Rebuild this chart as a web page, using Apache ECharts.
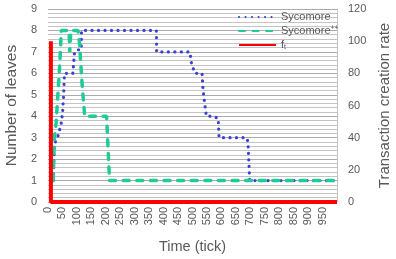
<!DOCTYPE html>
<html>
<head>
<meta charset="utf-8">
<script src="https://cdn.jsdelivr.net/npm/echarts@6/dist/echarts.min.js"></script>
<style>
  html, body { margin: 0; padding: 0; background: #fff; }
  #chart { width: 396px; height: 259px; }
</style>
</head>
<body>
<div id="chart"></div>
<script>
// Sycomore (blue dotted)
var sycTime = [18, 22, 35, 45, 50, 54, 57, 86, 92, 103, 115, 116, 375, 376, 491, 496, 508, 533, 536, 542, 548, 571, 589, 592, 687, 692, 698, 1000];
var sycLeaves = [1, 2.7, 3.1, 3.6, 4.1, 5, 6, 6, 7, 7.1, 7.1, 8, 8, 7, 7, 6.5, 6, 6, 5.3, 4.6, 4, 4, 3.9, 3, 3, 2.8, 1, 1];

// Sycomore++ (green dashed)
var sppTime = [18, 22, 28, 34, 38, 42, 46, 73, 75, 77, 79, 104, 109, 118, 127, 203, 206, 213, 1000];
var sppLeaves = [1, 3, 3.7, 5, 5.8, 6.8, 8, 8, 7, 7, 8, 8, 7.4, 5.5, 4, 4, 3, 1, 1];

// f_t, transaction creation rate (right axis)
var ftTime = [10, 10, 1000];
var ftRate = [100, 0, 0];

var leafTicks = [0, 9, 1];
var rateTicks = [0, 120, 20];
var timeTicks = [0, 1000, 50];

function pairs(xs, ys) {
    return xs.map(function (x, i) { return [x, ys[i]]; });
}

var grey = '#595959';
var font = 'Liberation Sans, Arial, sans-serif';

var option = {
    animation: false,
    textStyle: {fontFamily: font},
    grid: {left: 48, right: 59, top: 9, bottom: 57, containLabel: false, outerBoundsMode: 'none'},
    legend: {
        orient: 'vertical',
        left: 233,
        top: 6,
        itemWidth: 37,
        itemHeight: 8,
        itemGap: 2,
        itemStyle: {opacity: 0},
        data: ['Sycomore', 'Sycomore++', 'ft'],
        formatter: function (name) {
            if (name === 'Sycomore++') return 'Sycomore{sup|++}';
            if (name === 'ft') return 'f{sub|t}';
            return name;
        },
        textStyle: {
            color: grey, fontSize: 11, fontFamily: font, lineHeight: 12,
            rich: {
                sup: {fontSize: 7, color: grey, verticalAlign: 'top', lineHeight: 12},
                sub: {fontSize: 7, color: grey, verticalAlign: 'bottom', lineHeight: 12}
            }
        }
    },
    xAxis: {
        type: 'value',
        min: timeTicks[0],
        max: timeTicks[1],
        interval: timeTicks[2],
        name: 'Time (tick)',
        nameLocation: 'middle',
        nameGap: 37,
        nameTextStyle: {color: grey, fontSize: 14.5, fontFamily: font},
        axisLine: {show: false},
        axisTick: {show: false},
        splitLine: {show: false},
        axisLabel: {
            rotate: 90, color: grey, fontSize: 11, margin: 5,
            formatter: function (v) { return v >= 1000 ? '' : String(v); }
        }
    },
    yAxis: [
        {
            type: 'value',
            min: leafTicks[0],
            max: leafTicks[1],
            interval: leafTicks[2],
            name: 'Number of leaves',
            nameLocation: 'middle',
            nameGap: 23,
            nameTextStyle: {color: grey, fontSize: 15.5, fontFamily: font},
            axisLine: {show: false},
            axisTick: {show: false},
            axisLabel: {color: grey, fontSize: 11, margin: 11},
            splitLine: {show: true, lineStyle: {color: '#ababab', width: 1}},
            minorTick: {show: false, splitNumber: 5},
            minorSplitLine: {show: true, lineStyle: {color: '#c4c4c4', width: 1}}
        },
        {
            type: 'value',
            position: 'right',
            min: rateTicks[0],
            max: rateTicks[1],
            interval: rateTicks[2],
            name: 'Transaction creation rate',
            nameLocation: 'middle',
            nameGap: 38,
            nameTextStyle: {color: grey, fontSize: 15, fontFamily: font},
            axisLine: {show: true, lineStyle: {color: '#c4c4c4'}},
            axisTick: {show: false},
            axisLabel: {color: grey, fontSize: 11, margin: 11},
            splitLine: {show: false}
        }
    ],
    series: [
        {
            name: 'Sycomore',
            type: 'line',
            yAxisIndex: 0,
            symbol: 'none',
            z: 2,
            itemStyle: {color: '#3a41d0'},
            lineStyle: {color: '#3a41d0', width: 3.2, type: [0.1, 6.4], cap: 'round'},
            data: pairs(sycTime, sycLeaves)
        },
        {
            name: 'Sycomore++',
            type: 'line',
            yAxisIndex: 0,
            symbol: 'none',
            z: 3,
            itemStyle: {color: '#1fcb96'},
            lineStyle: {color: '#1fcb96', width: 3.5, type: [6, 7.6], cap: 'round'},
            data: pairs(sppTime, sppLeaves)
        },
        {
            name: 'ft',
            type: 'line',
            yAxisIndex: 1,
            symbol: 'none',
            clip: false,
            z: 4,
            itemStyle: {color: '#ff0000'},
            lineStyle: {color: '#ff0000', width: 4},
            data: pairs(ftTime, ftRate)
        }
    ]
};

var myChart = echarts.init(document.getElementById('chart'));
myChart.setOption(option);
</script>
</body>
</html>
